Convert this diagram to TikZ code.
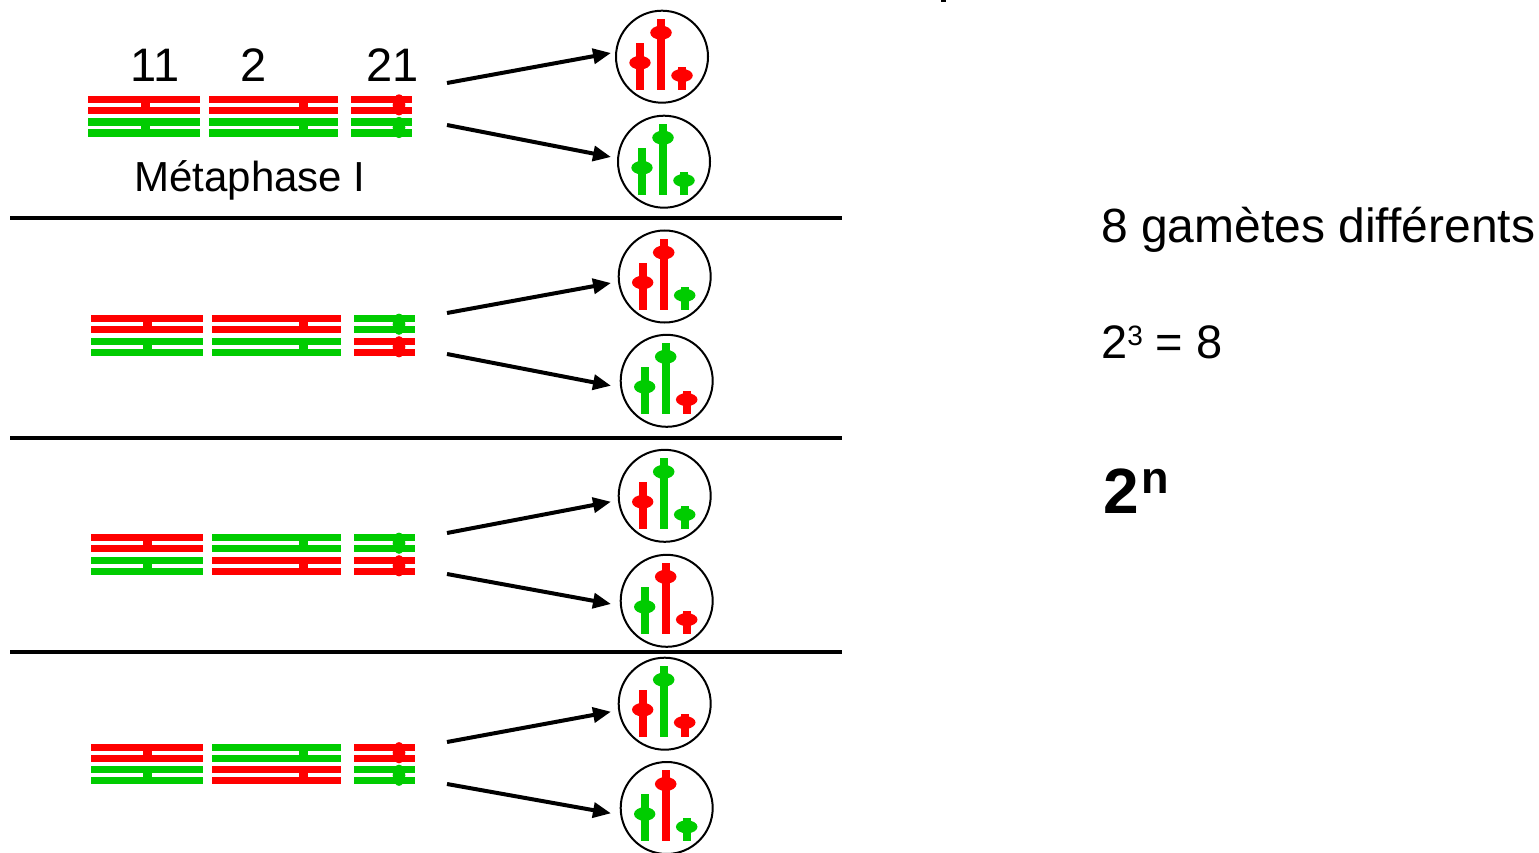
\documentclass[tikz,border=0pt]{standalone}
\usepackage{fontspec}
\setmainfont{Liberation Sans}
\usetikzlibrary{arrows.meta}
\definecolor{chrred}{RGB}{255,0,0}
\definecolor{chrgreen}{RGB}{0,204,0}

% one chromosome: two chromatids joined at the centromere
% #1 colour, #2 left, #3 right, #4 centromere x, #5 top y
\newcommand{\chromatids}[5]{%
  \fill[#1] ({#2},{#5}) rectangle ({#3},{#5+7.3});
  \fill[#1] ({#2},{#5+11}) rectangle ({#3},{#5+18.3});
  \fill[#1] ({#4-4.5},{#5}) rectangle ({#4+4.5},{#5+18.3});
}
% small acrocentric chromosome with a rounded centromere
\newcommand{\smallchr}[5]{%
  \fill[#1] ({#2},{#5}) rectangle ({#3},{#5+7.3});
  \fill[#1] ({#2},{#5+11}) rectangle ({#3},{#5+18.3});
  \fill[#1] ({#4},{#5+9.2}) ellipse [x radius=6.3pt, y radius=10.6pt];
}
% a metaphase I row: #1 top y, #2 x shift,
% #3/#4 colours of chr 2 (upper/lower), #5/#6 colours of chr 21 (upper/lower)
\newcommand{\bivrow}[6]{%
  \chromatids{chrred}{88+#2}{200+#2}{145+#2}{#1}
  \chromatids{chrgreen}{88+#2}{200+#2}{145+#2}{#1+22.6}
  \chromatids{#3}{209+#2}{338+#2}{303}{#1}
  \chromatids{#4}{209+#2}{338+#2}{303}{#1+22.6}
  \smallchr{#5}{351+#2}{412+#2}{399}{#1}
  \smallchr{#6}{351+#2}{412+#2}{399}{#1+22.6}
}
% a gamete: #1 name, #2 #3 centre, #4 #5 #6 colours of chr 11, 2, 21
\newcommand{\gamete}[6]{%
  \node[gcell] (#1) at (#2,#3) {};
  \fill[#4] ({#2-26},{#3-14}) rectangle ({#2-18},{#3+33.3});
  \fill[#4] ({#2-22},{#3+6}) ellipse [x radius=10.7pt, y radius=6.8pt];
  \fill[#5] ({#2-5.2},{#3-37.7}) rectangle ({#2+3.2},{#3+33.3});
  \fill[#5] ({#2-1},{#3-24}) ellipse [x radius=10.8pt, y radius=7pt];
  \fill[#6] ({#2+16},{#3+10}) rectangle ({#2+24},{#3+33.3});
  \fill[#6] ({#2+20},{#3+18.8}) ellipse [x radius=10.8pt, y radius=6.5pt];
}

\begin{document}
\begin{tikzpicture}[x=1pt, y=-1pt,
  gcell/.style={draw, circle, line width=2pt, minimum size=92pt, inner sep=0pt},
  arr/.style={line width=4pt, -{Triangle[length=18pt, width=15pt]}},
  sep/.style={line width=4pt},
  lbl/.style={inner sep=0pt, font=\fontsize{47}{56}\selectfont},
  sublbl/.style={inner sep=0pt, font=\fontsize{42}{50}\selectfont}]
\useasboundingbox (0,0) rectangle (1539,853);

% fragment of a glyph at the top edge
\fill (941,0) rectangle (945.5,2.5);

% chromosome labels
\node[lbl, anchor=base] (l11) at (155,82) {11};
\node[lbl, anchor=base] (l2)  at (254,82) {2};
\node[lbl, anchor=base] (l21) at (393,82) {21};
\node[sublbl, anchor=base] (meta) at (250,192) {Métaphase I};

% the four possible orientations at metaphase I
\bivrow{95.7}{0}{chrred}{chrgreen}{chrred}{chrgreen}
\bivrow{315}{2.5}{chrred}{chrgreen}{chrgreen}{chrred}
\bivrow{534}{2.5}{chrgreen}{chrred}{chrgreen}{chrred}
\bivrow{743.5}{2.5}{chrgreen}{chrred}{chrred}{chrgreen}

% separators
\coordinate (s1a) at (10,218);  \coordinate (s1b) at (842,218);
\coordinate (s2a) at (10,438);  \coordinate (s2b) at (842,438);
\coordinate (s3a) at (10,652);  \coordinate (s3b) at (842,652);
\draw[sep] (s1a) -- (s1b);
\draw[sep] (s2a) -- (s2b);
\draw[sep] (s3a) -- (s3b);

% gametes
\gamete{g1a}{662}{56.7}{chrred}{chrred}{chrred}
\gamete{g1b}{664}{161.7}{chrgreen}{chrgreen}{chrgreen}
\gamete{g2a}{664.7}{276.5}{chrred}{chrred}{chrgreen}
\gamete{g2b}{666.7}{380.8}{chrgreen}{chrgreen}{chrred}
\gamete{g3a}{664.7}{495.8}{chrred}{chrgreen}{chrgreen}
\gamete{g3b}{666.7}{600.8}{chrgreen}{chrred}{chrred}
\gamete{g4a}{664.7}{703.7}{chrred}{chrgreen}{chrred}
\gamete{g4b}{666.7}{808}{chrgreen}{chrred}{chrgreen}

% arrows from each row to its two gametes
\coordinate (a1a) at (447,83);  \coordinate (t1a) at (611,53);
\coordinate (a1b) at (447,125); \coordinate (t1b) at (611,157);
\coordinate (a2a) at (447,313); \coordinate (t2a) at (611,283);
\coordinate (a2b) at (447,354); \coordinate (t2b) at (611,385.7);
\coordinate (a3a) at (447,533); \coordinate (t3a) at (611,501.7);
\coordinate (a3b) at (447,574); \coordinate (t3b) at (611,604);
\coordinate (a4a) at (447,742); \coordinate (t4a) at (611,711.7);
\coordinate (a4b) at (447,784); \coordinate (t4b) at (611,813.3);
\foreach \r in {1,2,3,4}{
  \draw[arr] (a\r a) -- (t\r a);
  \draw[arr] (a\r b) -- (t\r b);
}

% conclusions
\node[inner sep=0pt, anchor=base west, font=\fontsize{48}{56}\selectfont] (res) at (1101,243) {8 gamètes différents};
\node[lbl, anchor=base west] (pow) at (1101,358)
  {2\raisebox{13pt}{\fontsize{28}{32}\selectfont 3} = 8};
\node[inner sep=0pt, anchor=base west, font=\fontsize{64}{72}\selectfont\bfseries] (gen) at (1103,513)
  {2\hspace{3pt}\raisebox{20pt}{\fontsize{45}{50}\selectfont n}};
\end{tikzpicture}
\end{document}
